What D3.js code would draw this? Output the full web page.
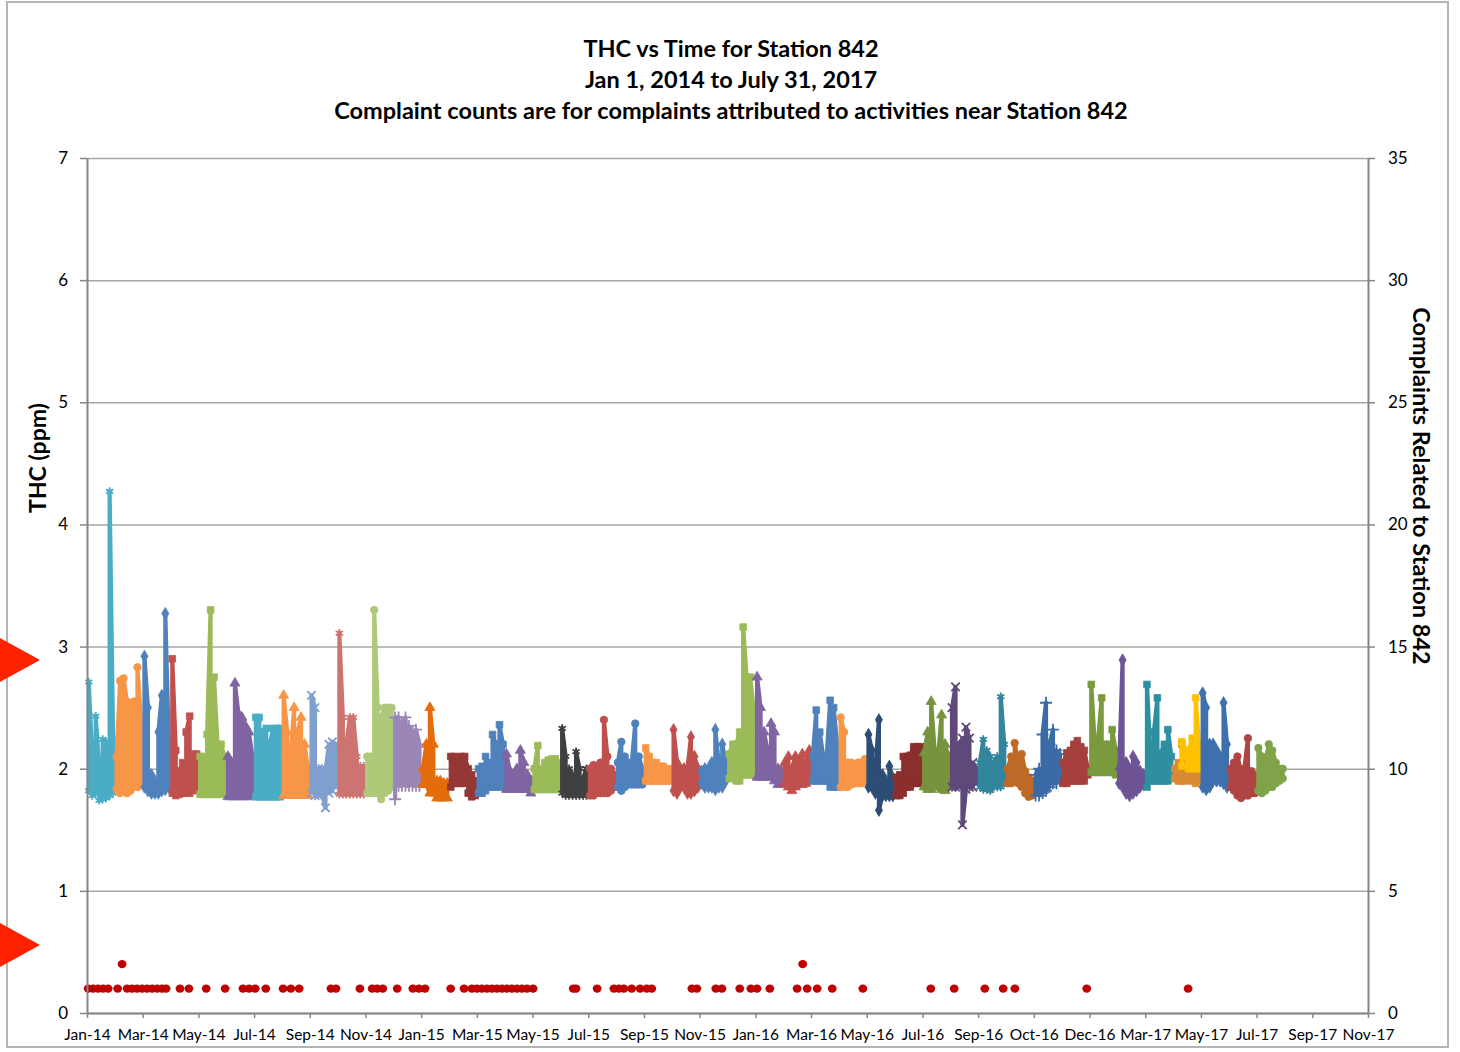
<!DOCTYPE html>
<html>
<head>
<meta charset="utf-8">
<script src="https://cdn.jsdelivr.net/npm/d3@7"></script>
<style>
  html, body { margin: 0; padding: 0; background: #ffffff; }
  svg { display: block; font-family: Lato, "Open Sans", "Noto Sans", sans-serif; }
</style>
</head>
<body>
<script>
// ---------------- DATA ----------------
const titleLines = [
  "THC vs Time for Station 842",
  "Jan 1, 2014 to July 31, 2017",
  "Complaint counts are for complaints attributed to activities near Station 842"
];
const leftAxisTitle = "THC (ppm)";
const rightAxisTitle = "Complaints Related to Station 842";

const xTickLabels = ["Jan-14","Mar-14","May-14","Jul-14","Sep-14","Nov-14","Jan-15","Mar-15",
  "May-15","Jul-15","Sep-15","Nov-15","Jan-16","Mar-16","May-16","Jul-16","Sep-16","Oct-16",
  "Dec-16","Mar-17","May-17","Jul-17","Sep-17","Nov-17"];

const months = ["Jan-14","Feb-14","Mar-14","Apr-14","May-14","Jun-14","Jul-14","Aug-14","Sep-14",
  "Oct-14","Nov-14","Dec-14","Jan-15","Feb-15","Mar-15","Apr-15","May-15","Jun-15","Jul-15",
  "Aug-15","Sep-15","Oct-15","Nov-15","Dec-15","Jan-16","Feb-16","Mar-16","Apr-16","May-16",
  "Jun-16","Jul-16","Aug-16","Sep-16","Oct-16","Nov-16","Dec-16","Jan-17","Feb-17","Mar-17",
  "Apr-17","May-17","Jun-17","Jul-17"];

// THC (ppm): per month, sub-period maxima and minima
const thcHigh = [
  [2.71,2.10,2.43,2.00,2.24,2.22,4.27,2.25],
  [2.10,2.72,2.74,2.55,2.50,2.55,2.83,2.40],
  [2.92,2.50,1.95,1.90,2.30,2.60,3.27,2.20],
  [2.90,2.15,1.98,2.05,2.30,2.43,2.12,2.12],
  [2.10,2.10,2.28,3.30,2.75,2.20,2.20,2.10],
  [2.10,2.05,2.70,2.45,2.42,2.35,2.30,2.10],
  [2.42,2.42,2.30,2.33,2.20,2.33,2.33,2.33],
  [2.60,2.30,2.10,2.50,2.30,2.42,2.20,2.00],
  [2.60,2.50,2.00,2.00,1.98,2.20,2.22,2.20],
  [3.11,2.42,2.20,2.42,2.42,2.10,2.02,2.02],
  [2.10,2.10,3.30,2.50,2.42,2.50,2.50,2.50],
  [2.42,2.42,2.38,2.42,2.35,2.30,2.32,2.20],
  [2.00,2.20,2.50,2.20,1.90,1.90,1.88,1.88],
  [2.10,2.10,2.05,2.10,2.10,2.00,1.95,1.90],
  [2.00,2.02,2.10,2.05,2.28,2.20,2.36,2.20],
  [2.12,1.98,1.95,2.00,2.15,2.05,1.95,1.90],
  [2.00,2.19,2.00,2.05,2.07,2.08,2.08,2.05],
  [2.33,2.10,2.00,1.95,2.14,2.00,1.92,2.00],
  [2.00,2.03,2.00,2.05,2.40,2.10,2.00,1.95],
  [2.05,2.22,2.10,2.05,2.05,2.37,2.10,2.00],
  [2.17,2.10,2.05,2.05,2.02,2.02,2.00,2.00],
  [2.32,2.05,2.00,2.00,2.00,2.26,2.10,2.00],
  [1.98,2.00,2.00,2.05,2.32,2.05,2.20,2.05],
  [2.12,2.20,2.20,2.30,3.16,2.75,2.75,2.50],
  [2.75,2.50,2.30,2.15,2.37,2.30,2.00,1.98],
  [2.05,2.10,2.00,2.10,2.05,2.12,2.05,2.15],
  [2.10,2.48,2.30,2.10,2.10,2.56,2.50,2.20],
  [2.42,2.30,2.05,2.05,2.03,2.05,2.05,2.08],
  [2.28,2.15,2.00,2.40,1.95,1.90,2.02,1.92],
  [1.93,1.95,2.10,2.10,2.11,2.18,2.18,2.18],
  [2.13,2.30,2.55,2.15,2.10,2.44,2.20,2.10],
  [2.50,2.67,2.20,2.25,2.34,2.25,2.05,2.00],
  [2.05,2.24,2.15,2.10,2.05,2.10,2.59,2.20],
  [2.00,2.10,2.21,2.05,2.12,1.98,1.93,1.90],
  [1.95,2.00,2.28,2.54,2.20,2.32,2.15,2.12],
  [2.05,2.13,2.15,2.20,2.23,2.18,2.15,2.00],
  [2.69,2.20,2.25,2.58,2.20,2.20,2.32,2.15],
  [2.00,2.89,2.05,2.00,2.10,2.05,1.98,1.95],
  [2.69,2.10,2.30,2.58,2.13,2.20,2.32,2.10],
  [2.00,2.05,2.20,2.15,2.10,2.15,2.10,2.05],
  [2.62,2.50,2.20,2.20,2.15,2.10,2.54,2.20],
  [2.00,2.05,2.10,1.98,2.00,2.25,1.98,1.95],
  [2.17,2.10,2.05,2.20,2.15,2.05,2.00,2.00]
];
const thcLow = [
  [1.82,1.78,1.80,1.74,1.75,1.76,1.78,1.80],
  [1.83,1.80,1.82,1.80,1.82,1.85,1.85,1.88],
  [1.85,1.82,1.80,1.80,1.80,1.82,1.83,1.85],
  [1.80,1.78,1.79,1.80,1.80,1.80,1.82,1.83],
  [1.79,1.79,1.79,1.79,1.79,1.79,1.79,1.80],
  [1.77,1.77,1.77,1.77,1.77,1.77,1.77,1.78],
  [1.77,1.77,1.77,1.77,1.77,1.77,1.77,1.77],
  [1.78,1.78,1.78,1.78,1.78,1.78,1.78,1.78],
  [1.80,1.78,1.78,1.80,1.68,1.80,1.82,1.85],
  [1.79,1.79,1.79,1.79,1.79,1.79,1.79,1.79],
  [1.80,1.80,1.80,1.80,1.75,1.80,1.82,1.85],
  [1.75,1.86,1.86,1.86,1.86,1.86,1.86,1.86],
  [1.87,1.87,1.80,1.80,1.76,1.76,1.76,1.76],
  [1.85,1.88,1.88,1.88,1.88,1.80,1.77,1.78],
  [1.80,1.80,1.82,1.85,1.85,1.85,1.85,1.86],
  [1.83,1.83,1.83,1.83,1.83,1.83,1.83,1.80],
  [1.83,1.83,1.83,1.83,1.83,1.83,1.83,1.83],
  [1.80,1.78,1.78,1.78,1.78,1.78,1.78,1.78],
  [1.78,1.78,1.80,1.80,1.80,1.80,1.82,1.85],
  [1.85,1.82,1.85,1.87,1.87,1.87,1.87,1.87],
  [1.90,1.90,1.90,1.90,1.90,1.90,1.90,1.90],
  [1.82,1.80,1.85,1.85,1.80,1.80,1.82,1.85],
  [1.88,1.85,1.85,1.85,1.83,1.85,1.85,1.90],
  [1.92,1.92,1.90,1.90,1.95,1.95,1.95,1.95],
  [1.93,1.93,1.93,1.93,1.93,1.90,1.87,1.87],
  [1.88,1.85,1.82,1.85,1.87,1.87,1.88,1.90],
  [1.90,1.90,1.90,1.90,1.90,1.85,1.85,1.85],
  [1.85,1.85,1.85,1.87,1.88,1.88,1.88,1.90],
  [1.85,1.85,1.80,1.66,1.78,1.78,1.78,1.78],
  [1.78,1.78,1.80,1.85,1.85,1.88,1.88,1.88],
  [1.85,1.83,1.83,1.85,1.85,1.83,1.82,1.85],
  [1.85,1.85,1.85,1.54,1.83,1.85,1.85,1.88],
  [1.85,1.83,1.83,1.82,1.85,1.85,1.85,1.88],
  [1.88,1.88,1.90,1.88,1.85,1.80,1.77,1.78],
  [1.78,1.78,1.80,1.82,1.85,1.88,1.88,1.90],
  [1.88,1.88,1.90,1.90,1.90,1.90,1.90,1.95],
  [1.97,1.97,1.97,1.97,1.97,1.97,1.97,1.95],
  [1.88,1.85,1.80,1.78,1.80,1.82,1.85,1.87],
  [1.85,1.90,1.90,1.90,1.90,1.90,1.90,1.92],
  [1.92,1.90,1.90,1.90,1.92,1.90,1.88,1.90],
  [1.85,1.83,1.85,1.90,1.90,1.90,1.88,1.85],
  [1.85,1.82,1.78,1.76,1.78,1.78,1.80,1.80],
  [1.82,1.80,1.82,1.85,1.85,1.88,1.90,1.92]
];
// extra Apr-17 series (yellow), sub-period maxima / minima
const extraMonth = "Apr-17";
const extraHigh = [null,null,2.22,null,2.15,2.25,2.58,2.18];
const extraLow  = [null,null,2.02,null,2.00,2.00,2.00,2.00];

// complaints: position on the category axis and count
const complaintPos = [0.02,0.11,0.20,0.29,0.38,0.55,0.63,0.72,0.81,0.90,0.99,1.08,1.17,1.26,1.35,1.42,
  1.67,1.83,2.14,2.48,2.80,2.91,3.02,3.21,3.52,3.66,3.81,4.38,4.47,4.90,5.12,5.21,5.31,5.57,
  5.85,5.96,6.07,6.53,6.77,6.91,7.00,7.09,7.18,7.27,7.36,7.45,7.54,7.63,7.72,7.81,7.90,8.01,
  8.73,8.78,9.16,9.46,9.55,9.64,9.78,9.93,10.05,10.14,10.86,10.95,11.29,11.40,11.72,11.92,
  12.03,12.26,12.75,12.85,12.93,13.11,13.38,13.93,15.15,15.57,16.12,16.45,16.66,17.95,19.77];
const complaintCount = [1,1,1,1,1,1,2,1,1,1,1,1,1,1,1,1,
  1,1,1,1,1,1,1,1,1,1,1,1,1,1,1,1,1,1,
  1,1,1,1,1,1,1,1,1,1,1,1,1,1,1,1,1,1,
  1,1,1,1,1,1,1,1,1,1,1,1,1,1,1,1,
  1,1,1,2,1,1,1,1,1,1,1,1,1,1,1];

// ---------------- STYLE ----------------
const monthColors = ["#4BACC6","#F79646","#4F81BD","#C0504D","#9BBB59","#8064A2","#4BACC6","#F79646",
  "#7F9FCF","#CD7371","#AFC97A","#9A87B7","#E46C0A","#953735","#4F81BD","#8064A2","#9BBB59","#404040",
  "#C0504D","#4F81BD","#F79646","#C0504D","#4F81BD","#9BBB59","#8064A2","#C0504D","#4F81BD","#F79646",
  "#2C4D75","#8B2F2D","#77933C","#5F497A","#31859C","#BE6A26","#3B6BA6","#A5403D","#7A9A3E","#6E5494",
  "#2E8FA0","#DA8A32","#3E70AE","#B04442","#80A34A"];
const monthMarkers = ["asterisk","circle","diamond","square","square","triangle","square","triangle",
  "times","asterisk","circle","plus","triangle","square","square","triangle","square","asterisk",
  "circle","circle","square","diamond","diamond","square","triangle","triangle","square","circle",
  "diamond","square","triangle","times","asterisk","circle","plus","square","square","diamond",
  "square","square","diamond","circle","circle"];
const extraColor = "#FFC000";
const complaintColor = "#C00000";

// ---------------- LAYOUT ----------------
const W = 1460, H = 1052;
const plot = { left: 87, right: 1368, top: 158, bottom: 1013 };
const samplesPerMonth = 8;
const monthWidth = 0.5;   // category-axis units per month
const fontStack = "Lato, 'Open Sans', sans-serif";

const svg = d3.select("body").append("svg").attr("width", W).attr("height", H);

// outer frame
svg.append("rect").attr("x", 7).attr("y", 2).attr("width", 1441).attr("height", 1045)
  .attr("fill", "none").attr("stroke", "#B4B4B4").attr("stroke-width", 2);

const x = d3.scaleLinear().domain([0, xTickLabels.length - 1]).range([plot.left, plot.right]);
const yL = d3.scaleLinear().domain([0, 7]).range([plot.bottom, plot.top]);
const yR = d3.scaleLinear().domain([0, 35]).range([plot.bottom, plot.top]);

// gridlines
svg.append("g").attr("class", "grid")
  .attr("transform", `translate(${plot.left},0)`)
  .call(d3.axisLeft(yL).ticks(7).tickSize(-(plot.right - plot.left)).tickFormat(""))
  .call(g => g.select(".domain").remove())
  .call(g => g.selectAll("line").attr("stroke", "#A6A6A6").attr("stroke-width", 1.5));

// THC series
const symbolMap = {
  circle: d3.symbolCircle, diamond: d3.symbolDiamond, square: d3.symbolSquare,
  triangle: d3.symbolTriangle, star: d3.symbolStar,
  times: d3.symbolTimes || d3.symbolCross, plus: d3.symbolPlus || d3.symbolCross,
  asterisk: d3.symbolAsterisk || d3.symbolStar
};
const strokeMarkers = new Set(["times", "plus", "asterisk"]);

function sampleX(k, j) { return (k + (j + 0.5) / samplesPerMonth) * monthWidth; }

function snakePoints(k, hi, lo) {
  const pts = [];
  hi.forEach((h, j) => {
    if (h == null) return;
    const xv = sampleX(k, j);
    if (j % 2 === 0) { pts.push([xv, lo[j]]); pts.push([xv, h]); }
    else { pts.push([xv, h]); pts.push([xv, lo[j]]); }
  });
  return pts;
}

const line = d3.line().x(d => x(d[0])).y(d => yL(d[1]));
const seriesG = svg.append("g").attr("class", "thc");

function drawSeries(k, hi, lo, color, marker) {
  const g = seriesG.append("g");
  const pts = snakePoints(k, hi, lo);
  g.append("path").attr("d", line(pts)).attr("fill", "none")
    .attr("stroke", color).attr("stroke-width", 4.2).attr("stroke-linejoin", "round");
  const isStroke = strokeMarkers.has(marker);
  const sym = d3.symbol().type(symbolMap[marker]).size(isStroke ? 48 : 44);
  g.selectAll("path.m").data(pts).join("path").attr("class", "m")
    .attr("transform", d => `translate(${x(d[0])},${yL(d[1])})`)
    .attr("d", sym)
    .attr("fill", isStroke ? "none" : color)
    .attr("stroke", color).attr("stroke-width", isStroke ? 1.8 : 0.8);
}

months.forEach((m, k) => {
  drawSeries(k, thcHigh[k], thcLow[k], monthColors[k], monthMarkers[k]);
  if (m === extraMonth) {
    drawSeries(k, extraHigh, extraLow, extraColor, "square");
  }
});

// complaints
svg.append("g").attr("class", "complaints")
  .selectAll("ellipse").data(complaintPos.map((p, i) => [p, complaintCount[i]])).join("ellipse")
  .attr("cx", d => x(d[0])).attr("cy", d => yR(d[1]))
  .attr("rx", 4.4).attr("ry", 4.1)
  .attr("fill", complaintColor);

// axes
const axisColor = "#868686";

const gL = svg.append("g").attr("transform", `translate(${plot.left},0)`)
  .call(d3.axisLeft(yL).ticks(7).tickSize(7).tickPadding(12).tickSizeOuter(0));
const gR = svg.append("g").attr("transform", `translate(${plot.right},0)`)
  .call(d3.axisRight(yR).ticks(7).tickSize(7).tickPadding(13).tickSizeOuter(0));
const gB = svg.append("g").attr("transform", `translate(0,${plot.bottom})`)
  .call(d3.axisBottom(x).tickValues(d3.range(xTickLabels.length))
    .tickFormat(i => xTickLabels[i]).tickSize(5).tickPadding(11).tickSizeOuter(0));

[gL, gR, gB].forEach(g => {
  g.select(".domain").attr("stroke", axisColor).attr("stroke-width", 2);
  g.selectAll(".tick line").attr("stroke", axisColor).attr("stroke-width", 1.5);
  g.selectAll(".tick text").attr("fill", "#000").attr("font-size", 17)
    .attr("font-family", fontStack);
});
gB.selectAll(".tick text").attr("font-size", 15.5);

// titles
const tg = svg.append("g").attr("font-weight", "bold").attr("fill", "#000")
  .attr("font-family", fontStack);
titleLines.forEach((t, i) => {
  tg.append("text").attr("x", 731).attr("y", 57 + i * 31).attr("text-anchor", "middle")
    .attr("font-size", 23.5).text(t);
});
tg.append("text").attr("transform", "translate(46,458) rotate(-90)")
  .attr("text-anchor", "middle").attr("font-size", 23).text(leftAxisTitle);
tg.append("text").attr("transform", "translate(1413,486) rotate(90)")
  .attr("text-anchor", "middle").attr("font-size", 23.5).text(rightAxisTitle);

// red annotation arrows at the left edge
svg.append("g").attr("fill", "#FF2200")
  .selectAll("path").data([660, 945]).join("path")
  .attr("d", cy => `M0,${cy - 22}L40,${cy}L0,${cy + 22}Z`);
</script>
</body>
</html>
